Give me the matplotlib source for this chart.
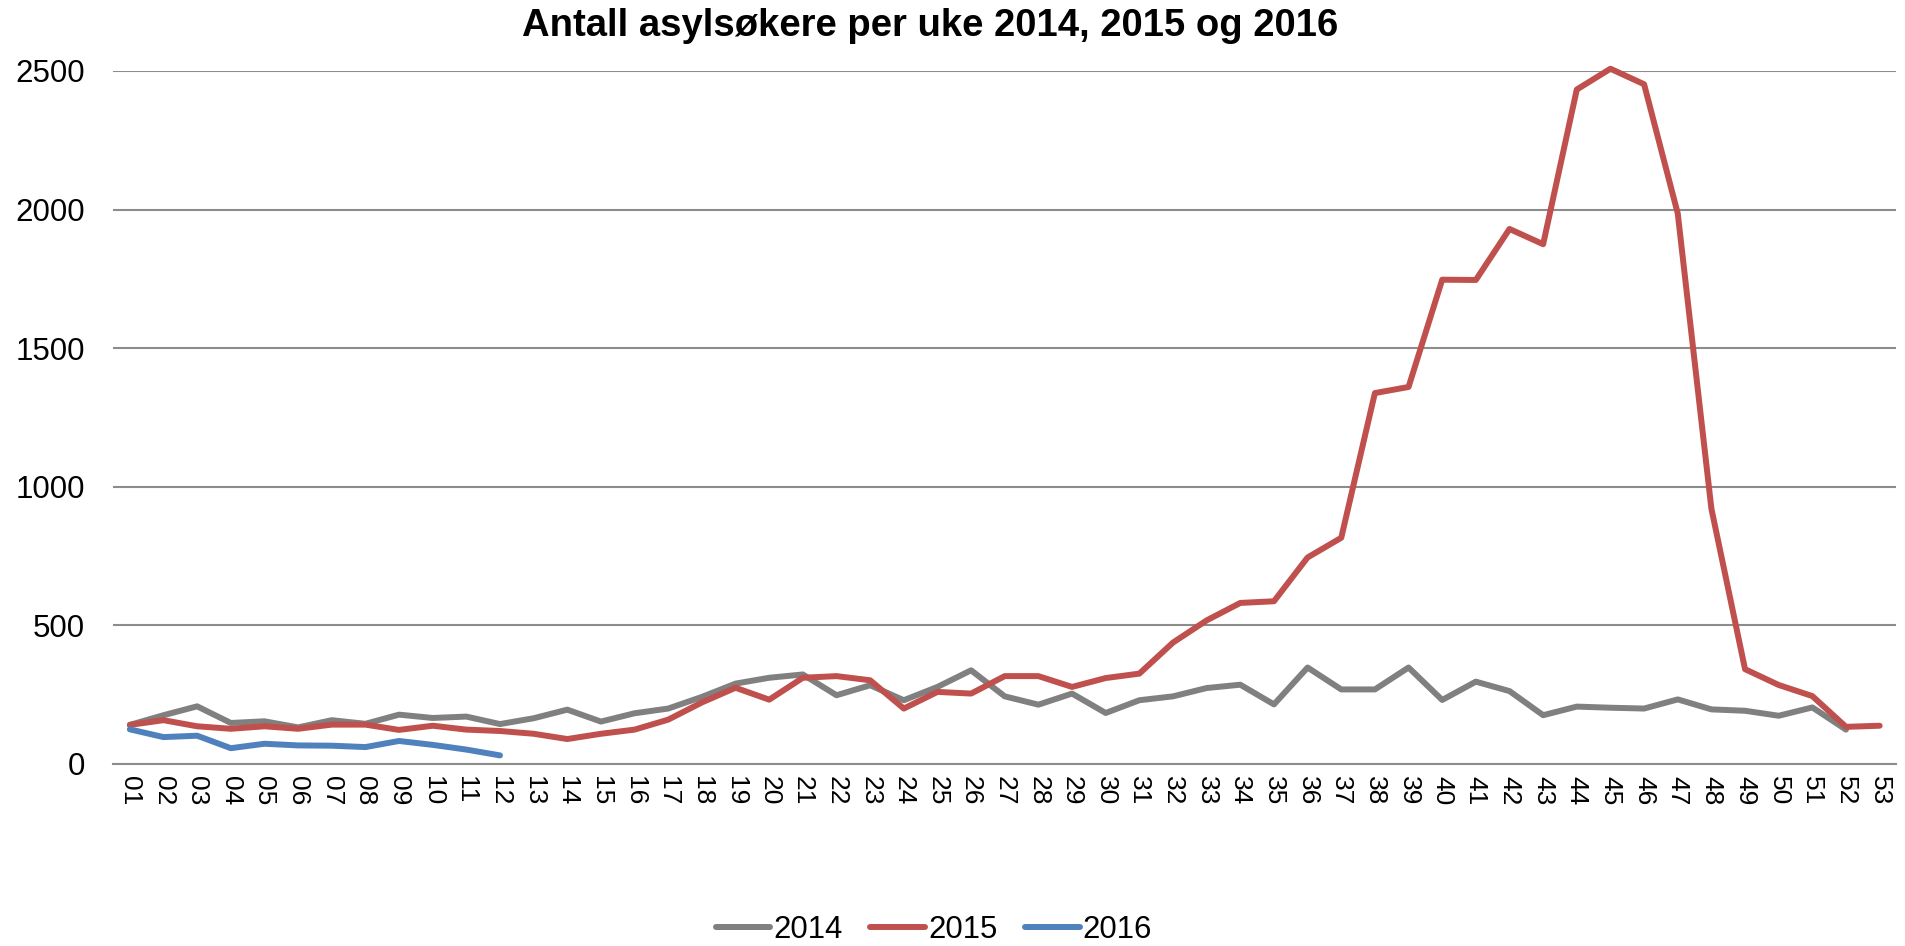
import matplotlib
matplotlib.use("Agg")
import matplotlib.pyplot as plt

plt.rcParams['font.family'] = ['Liberation Sans', 'DejaVu Sans']

uker = [f"{u:02d}" for u in range(1, 54)]

asyl_2014 = [141, 176, 208, 148, 154, 132, 158, 145, 178, 166, 171, 144, 165,
             196, 153, 183, 200, 242, 290, 311, 323, 248, 284, 230, 278, 338,
             244, 214, 254, 184, 230, 244, 274, 286, 215, 348, 269, 269, 348,
             231, 297, 263, 176, 207, 203, 200, 233, 197, 192, 174, 204, 124]
asyl_2015 = [141, 158, 136, 127, 136, 127, 142, 142, 123, 138, 124, 119, 109,
             90, 109, 124, 160, 222, 275, 232, 311, 317, 302, 200, 260, 254,
             317, 317, 278, 310, 326, 438, 518, 581, 587, 745, 816, 1338, 1360,
             1747, 1746, 1930, 1875, 2433, 2508, 2452, 1986, 921, 342, 285,
             245, 134, 138]
asyl_2016 = [125, 97, 102, 57, 73, 67, 66, 61, 83, 69, 52, 31]

serier = [("2014", asyl_2014, "#808080"),
          ("2015", asyl_2015, "#C0504D"),
          ("2016", asyl_2016, "#4F81BD")]

fig = plt.figure(figsize=(19.06, 9.46), dpi=100)
ax = fig.add_axes([0.0593, 0.1924, 0.9357, 0.7326])

for navn, verdier, farge in serier:
    ax.plot(uker[:len(verdier)], verdier, color=farge, linewidth=4.3,
            label=navn, solid_capstyle='round', clip_on=False, zorder=3)

ax.set_ylim(0, 2500)
ax.set_xlim(-0.5, len(uker) - 0.5)
ax.set_yticks(range(0, 2501, 500))
ax.yaxis.grid(True, color='#8c8c8c', linewidth=1.5)
ax.set_axisbelow(True)
for side in ['top', 'right', 'left']:
    ax.spines[side].set_visible(False)
ax.spines['bottom'].set_color('#8c8c8c')
ax.spines['bottom'].set_linewidth(1.5)
ax.tick_params(axis='y', length=0, labelsize=22.5, pad=20)
ax.tick_params(axis='x', length=0, labelsize=19, labelrotation=-90, pad=9)

fig.text(0.488, 0.962, "Antall asylsøkere per uke 2014, 2015 og 2016",
         fontsize=27.5, fontweight='bold', ha='center', va='baseline')

fig.legend(loc='center', bbox_to_anchor=(0.49, 0.017), ncol=3,
           frameon=False, fontsize=22.4, handlelength=1.75, handletextpad=0.1,
           columnspacing=0.9, borderpad=0)

fig.savefig("out.png", dpi=100)
